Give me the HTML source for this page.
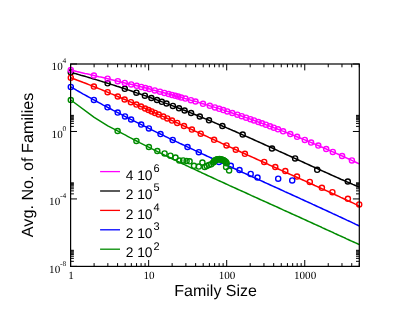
<!DOCTYPE html><html><head><meta charset="utf-8"><title>plot</title><style>
html,body{margin:0;padding:0;background:#fff}body{width:415px;height:321px;position:relative;overflow:hidden}svg{display:block}text{fill:#000;text-rendering:geometricPrecision}
</style></head><body>
<svg width="415" height="321" viewBox="0 0 415 321" style="position:absolute;left:0;top:0">
<rect width="415" height="321" fill="#fff"/>
<defs><clipPath id="c"><rect x="66.6" y="60.0" width="296.7" height="210.4"/></clipPath></defs>
<g clip-path="url(#c)">
<path d="M70.8 72.3 L72.8 72.9 L74.8 73.4 L76.8 74.0 L78.8 74.6 L80.8 75.2 L82.8 75.7 L84.8 76.3 L86.8 76.9 L88.8 77.5 L90.8 78.1 L92.8 78.7 L94.8 79.3 L96.8 79.9 L98.8 80.5 L100.8 81.1 L102.8 81.8 L104.8 82.4 L106.8 83.0 L108.8 83.6 L110.8 84.3 L112.8 84.9 L114.8 85.5 L116.8 86.2 L118.8 86.8 L120.8 87.5 L122.8 88.1 L124.8 88.8 L126.8 89.5 L128.8 90.1 L130.8 90.8 L132.8 91.5 L134.8 92.2 L136.8 92.9 L138.8 93.5 L140.8 94.2 L142.8 94.9 L144.8 95.6 L146.8 96.3 L148.8 97.1 L150.8 97.8 L152.8 98.5 L154.8 99.2 L156.8 99.9 L158.8 100.7 L160.8 101.4 L162.8 102.1 L164.8 102.9 L166.8 103.6 L168.8 104.4 L170.8 105.1 L172.8 105.9 L174.8 106.7 L176.8 107.4 L178.8 108.2 L180.8 109.0 L182.8 109.8 L184.8 110.5 L186.8 111.3 L188.8 112.1 L190.8 112.9 L192.8 113.7 L194.8 114.5 L196.8 115.3 L198.8 116.1 L200.8 117.0 L202.8 117.8 L204.8 118.6 L206.8 119.4 L208.8 120.3 L210.8 121.1 L212.8 121.9 L214.8 122.8 L216.8 123.6 L218.8 124.5 L220.8 125.3 L222.8 126.2 L224.8 127.0 L226.8 127.9 L228.8 128.7 L230.8 129.6 L232.8 130.5 L234.8 131.3 L236.8 132.2 L238.8 133.1 L240.8 134.0 L242.8 134.9 L244.8 135.7 L246.8 136.6 L248.8 137.5 L250.8 138.4 L252.8 139.3 L254.8 140.2 L256.8 141.1 L258.8 142.0 L260.8 142.9 L262.8 143.8 L264.8 144.7 L266.8 145.6 L268.8 146.5 L270.8 147.4 L272.8 148.3 L274.8 149.2 L276.8 150.1 L278.8 151.1 L280.8 152.0 L282.8 152.9 L284.8 153.8 L286.8 154.7 L288.8 155.6 L290.8 156.5 L292.8 157.5 L294.8 158.4 L296.8 159.3 L298.8 160.2 L300.8 161.1 L302.8 162.0 L304.8 163.0 L306.8 163.9 L308.8 164.8 L310.8 165.7 L312.8 166.6 L314.8 167.5 L316.8 168.4 L318.8 169.3 L320.8 170.2 L322.8 171.1 L324.8 172.0 L326.8 172.9 L328.8 173.8 L330.8 174.7 L332.8 175.6 L334.8 176.5 L336.8 177.4 L338.8 178.3 L340.8 179.2 L342.8 180.0 L344.8 180.9 L346.8 181.8 L348.8 182.6 L350.8 183.5 L352.8 184.4 L354.8 185.2 L356.8 186.1 L358.8 186.9 L359.3 187.1" fill="none" stroke="#000000" stroke-width="1.5" stroke-linejoin="round"/>
<g fill="none" stroke="#000000" stroke-width="1.4"><circle cx="70.8" cy="72.3" r="2.55"/><circle cx="107.6" cy="83.3" r="2.55"/><circle cx="124.8" cy="88.8" r="2.55"/><circle cx="136.4" cy="92.7" r="2.55"/><circle cx="144.9" cy="95.7" r="2.55"/><circle cx="151.4" cy="98.0" r="2.55"/><circle cx="157.0" cy="100.0" r="2.55"/><circle cx="161.8" cy="101.8" r="2.55"/><circle cx="166.5" cy="103.5" r="2.55"/><circle cx="172.9" cy="105.9" r="2.55"/><circle cx="179.0" cy="108.3" r="2.55"/><circle cx="184.6" cy="110.5" r="2.55"/><circle cx="191.1" cy="113.0" r="2.55"/><circle cx="199.8" cy="116.5" r="2.55"/><circle cx="209.0" cy="120.3" r="2.55"/><circle cx="222.4" cy="126.0" r="2.55"/><circle cx="242.7" cy="134.5" r="2.55"/><circle cx="272.0" cy="148.5" r="2.55"/><circle cx="295.1" cy="158.4" r="2.55"/><circle cx="317.2" cy="169.8" r="2.55"/><circle cx="347.8" cy="181.5" r="2.55"/></g>

<path d="M70.8 70.0 L72.8 70.5 L74.8 71.0 L76.8 71.5 L78.8 71.9 L80.8 72.4 L82.8 72.9 L84.8 73.4 L86.8 73.8 L88.8 74.3 L90.8 74.8 L92.8 75.2 L94.8 75.7 L96.8 76.2 L98.8 76.7 L100.8 77.1 L102.8 77.6 L104.8 78.1 L106.8 78.6 L108.8 79.0 L110.8 79.5 L112.8 80.0 L114.8 80.5 L116.8 80.9 L118.8 81.4 L120.8 81.9 L122.8 82.4 L124.8 82.9 L126.8 83.4 L128.8 83.8 L130.8 84.3 L132.8 84.8 L134.8 85.3 L136.8 85.8 L138.8 86.3 L140.8 86.8 L142.8 87.3 L144.8 87.8 L146.8 88.3 L148.8 88.8 L150.8 89.3 L152.8 89.9 L154.8 90.4 L156.8 90.9 L158.8 91.4 L160.8 91.9 L162.8 92.5 L164.8 93.0 L166.8 93.5 L168.8 94.1 L170.8 94.6 L172.8 95.1 L174.8 95.7 L176.8 96.2 L178.8 96.8 L180.8 97.3 L182.8 97.9 L184.8 98.5 L186.8 99.0 L188.8 99.6 L190.8 100.2 L192.8 100.8 L194.8 101.3 L196.8 101.9 L198.8 102.5 L200.8 103.1 L202.8 103.7 L204.8 104.3 L206.8 104.9 L208.8 105.5 L210.8 106.1 L212.8 106.8 L214.8 107.4 L216.8 108.0 L218.8 108.6 L220.8 109.3 L222.8 109.9 L224.8 110.5 L226.8 111.2 L228.8 111.8 L230.8 112.5 L232.8 113.2 L234.8 113.8 L236.8 114.5 L238.8 115.2 L240.8 115.8 L242.8 116.5 L244.8 117.2 L246.8 117.9 L248.8 118.6 L250.8 119.3 L252.8 120.0 L254.8 120.7 L256.8 121.4 L258.8 122.2 L260.8 122.9 L262.8 123.6 L264.8 124.3 L266.8 125.1 L268.8 125.8 L270.8 126.6 L272.8 127.3 L274.8 128.1 L276.8 128.8 L278.8 129.6 L280.8 130.4 L282.8 131.1 L284.8 131.9 L286.8 132.7 L288.8 133.5 L290.8 134.3 L292.8 135.1 L294.8 135.9 L296.8 136.7 L298.8 137.5 L300.8 138.3 L302.8 139.1 L304.8 139.9 L306.8 140.8 L308.8 141.6 L310.8 142.4 L312.8 143.3 L314.8 144.1 L316.8 145.0 L318.8 145.8 L320.8 146.7 L322.8 147.5 L324.8 148.4 L326.8 149.3 L328.8 150.1 L330.8 151.0 L332.8 151.9 L334.8 152.8 L336.8 153.6 L338.8 154.5 L340.8 155.4 L342.8 156.3 L344.8 157.2 L346.8 158.1 L348.8 159.0 L350.8 159.9 L352.8 160.9 L354.8 161.8 L356.8 162.7 L358.8 163.6 L359.3 163.9" fill="none" stroke="#ff00ff" stroke-width="1.5" stroke-linejoin="round"/>
<g fill="none" stroke="#ff00ff" stroke-width="1.4"><circle cx="70.8" cy="70.0" r="2.55"/><circle cx="93.9" cy="75.5" r="2.55"/><circle cx="107.6" cy="78.7" r="2.55"/><circle cx="117.8" cy="81.2" r="2.55"/><circle cx="124.8" cy="82.9" r="2.55"/><circle cx="131.2" cy="84.4" r="2.55"/><circle cx="136.7" cy="85.8" r="2.55"/><circle cx="141.3" cy="86.9" r="2.55"/><circle cx="145.4" cy="88.0" r="2.55"/><circle cx="149.3" cy="89.0" r="2.55"/><circle cx="154.8" cy="90.4" r="2.55"/><circle cx="160.0" cy="91.7" r="2.55"/><circle cx="164.4" cy="92.9" r="2.55"/><circle cx="168.6" cy="94.0" r="2.55"/><circle cx="172.0" cy="94.9" r="2.55"/><circle cx="175.3" cy="95.8" r="2.55"/><circle cx="178.2" cy="96.6" r="2.55"/><circle cx="181.2" cy="97.5" r="2.55"/><circle cx="185.4" cy="98.6" r="2.55"/><circle cx="190.9" cy="100.2" r="2.55"/><circle cx="195.5" cy="101.5" r="2.55"/><circle cx="203.0" cy="103.8" r="2.55"/><circle cx="209.8" cy="105.8" r="2.55"/><circle cx="214.9" cy="107.4" r="2.55"/><circle cx="219.2" cy="108.8" r="2.55"/><circle cx="223.3" cy="110.1" r="2.55"/><circle cx="227.3" cy="111.4" r="2.55"/><circle cx="232.3" cy="113.0" r="2.55"/><circle cx="237.4" cy="114.7" r="2.55"/><circle cx="241.7" cy="116.2" r="2.55"/><circle cx="246.1" cy="117.7" r="2.55"/><circle cx="250.4" cy="119.2" r="2.55"/><circle cx="254.0" cy="120.4" r="2.55"/><circle cx="258.4" cy="122.0" r="2.55"/><circle cx="262.0" cy="123.3" r="2.55"/><circle cx="265.9" cy="124.7" r="2.55"/><circle cx="270.0" cy="126.3" r="2.55"/><circle cx="273.8" cy="127.7" r="2.55"/><circle cx="278.0" cy="129.3" r="2.55"/><circle cx="283.1" cy="131.3" r="2.55"/><circle cx="290.3" cy="134.1" r="2.55"/><circle cx="297.1" cy="136.8" r="2.55"/><circle cx="304.8" cy="139.9" r="2.55"/><circle cx="311.1" cy="142.6" r="2.55"/><circle cx="318.3" cy="145.6" r="2.55"/><circle cx="326.2" cy="149.0" r="2.55"/><circle cx="332.8" cy="151.9" r="2.55"/><circle cx="342.1" cy="156.0" r="2.55"/><circle cx="351.9" cy="160.4" r="2.55"/></g>

<path d="M70.8 77.7 L72.8 78.5 L74.8 79.2 L76.8 80.0 L78.8 80.7 L80.8 81.5 L82.8 82.3 L84.8 83.0 L86.8 83.8 L88.8 84.6 L90.8 85.4 L92.8 86.2 L94.8 87.0 L96.8 87.8 L98.8 88.6 L100.8 89.4 L102.8 90.2 L104.8 91.1 L106.8 91.9 L108.8 92.7 L110.8 93.6 L112.8 94.4 L114.8 95.3 L116.8 96.1 L118.8 97.0 L120.8 97.8 L122.8 98.7 L124.8 99.5 L126.8 100.4 L128.8 101.3 L130.8 102.1 L132.8 103.0 L134.8 103.9 L136.8 104.8 L138.8 105.7 L140.8 106.5 L142.8 107.4 L144.8 108.3 L146.8 109.2 L148.8 110.1 L150.8 111.0 L152.8 111.9 L154.8 112.8 L156.8 113.7 L158.8 114.6 L160.8 115.5 L162.8 116.4 L164.8 117.3 L166.8 118.2 L168.8 119.1 L170.8 120.0 L172.8 120.9 L174.8 121.8 L176.8 122.7 L178.8 123.7 L180.8 124.6 L182.8 125.5 L184.8 126.4 L186.8 127.3 L188.8 128.2 L190.8 129.1 L192.8 130.0 L194.8 131.0 L196.8 131.9 L198.8 132.8 L200.8 133.7 L202.8 134.6 L204.8 135.5 L206.8 136.4 L208.8 137.4 L210.8 138.3 L212.8 139.2 L214.8 140.1 L216.8 141.0 L218.8 141.9 L220.8 142.8 L222.8 143.8 L224.8 144.7 L226.8 145.6 L228.8 146.5 L230.8 147.4 L232.8 148.3 L234.8 149.2 L236.8 150.1 L238.8 151.0 L240.8 152.0 L242.8 152.9 L244.8 153.8 L246.8 154.7 L248.8 155.6 L250.8 156.5 L252.8 157.4 L254.8 158.3 L256.8 159.2 L258.8 160.1 L260.8 161.0 L262.8 161.9 L264.8 162.8 L266.8 163.7 L268.8 164.7 L270.8 165.6 L272.8 166.5 L274.8 167.4 L276.8 168.3 L278.8 169.2 L280.8 170.1 L282.8 171.0 L284.8 171.9 L286.8 172.8 L288.8 173.7 L290.8 174.6 L292.8 175.5 L294.8 176.4 L296.8 177.3 L298.8 178.2 L300.8 179.1 L302.8 180.0 L304.8 180.9 L306.8 181.8 L308.8 182.7 L310.8 183.6 L312.8 184.5 L314.8 185.5 L316.8 186.4 L318.8 187.3 L320.8 188.2 L322.8 189.1 L324.8 190.0 L326.8 190.9 L328.8 191.8 L330.8 192.8 L332.8 193.7 L334.8 194.6 L336.8 195.5 L338.8 196.4 L340.8 197.4 L342.8 198.3 L344.8 199.2 L346.8 200.1 L348.8 201.1 L350.8 202.0 L352.8 202.9 L354.8 203.9 L356.8 204.8 L358.8 205.8 L359.3 206.0" fill="none" stroke="#ff0000" stroke-width="1.5" stroke-linejoin="round"/>
<g fill="none" stroke="#ff0000" stroke-width="1.4"><circle cx="70.8" cy="77.7" r="2.55"/><circle cx="93.9" cy="86.6" r="2.55"/><circle cx="107.6" cy="92.2" r="2.55"/><circle cx="117.8" cy="96.5" r="2.55"/><circle cx="124.6" cy="99.5" r="2.55"/><circle cx="130.9" cy="102.2" r="2.55"/><circle cx="136.4" cy="104.6" r="2.55"/><circle cx="141.0" cy="106.6" r="2.55"/><circle cx="145.1" cy="108.5" r="2.55"/><circle cx="148.5" cy="110.0" r="2.55"/><circle cx="151.7" cy="111.4" r="2.55"/><circle cx="155.0" cy="112.9" r="2.55"/><circle cx="158.7" cy="114.5" r="2.55"/><circle cx="163.3" cy="116.6" r="2.55"/><circle cx="167.3" cy="118.4" r="2.55"/><circle cx="172.0" cy="120.6" r="2.55"/><circle cx="177.2" cy="122.9" r="2.55"/><circle cx="184.0" cy="126.0" r="2.55"/><circle cx="191.9" cy="129.6" r="2.55"/><circle cx="200.7" cy="133.7" r="2.55"/><circle cx="214.1" cy="139.8" r="2.55"/><circle cx="226.5" cy="145.4" r="2.55"/><circle cx="235.8" cy="149.7" r="2.55"/><circle cx="244.9" cy="153.8" r="2.55"/><circle cx="264.2" cy="161.9" r="2.55"/><circle cx="275.3" cy="167.0" r="2.55"/><circle cx="285.3" cy="171.1" r="2.55"/><circle cx="297.0" cy="176.6" r="2.55"/><circle cx="309.8" cy="181.9" r="2.55"/><circle cx="321.9" cy="187.8" r="2.55"/><circle cx="332.4" cy="192.2" r="2.55"/><circle cx="347.9" cy="198.8" r="2.55"/><circle cx="359.2" cy="204.4" r="2.55"/></g>

<path d="M70.8 86.9 L72.8 88.1 L74.8 89.2 L76.8 90.4 L78.8 91.5 L80.8 92.6 L82.8 93.8 L84.8 94.9 L86.8 96.0 L88.8 97.1 L90.8 98.2 L92.8 99.3 L94.8 100.4 L96.8 101.5 L98.8 102.6 L100.8 103.7 L102.8 104.8 L104.8 105.8 L106.8 106.9 L108.8 108.0 L110.8 109.0 L112.8 110.1 L114.8 111.1 L116.8 112.2 L118.8 113.2 L120.8 114.2 L122.8 115.3 L124.8 116.3 L126.8 117.3 L128.8 118.3 L130.8 119.4 L132.8 120.4 L134.8 121.4 L136.8 122.4 L138.8 123.4 L140.8 124.4 L142.8 125.4 L144.8 126.4 L146.8 127.4 L148.8 128.4 L150.8 129.3 L152.8 130.3 L154.8 131.3 L156.8 132.3 L158.8 133.3 L160.8 134.2 L162.8 135.2 L164.8 136.2 L166.8 137.1 L168.8 138.1 L170.8 139.0 L172.8 140.0 L174.8 140.9 L176.8 141.9 L178.8 142.8 L180.8 143.8 L182.8 144.7 L184.8 145.7 L186.8 146.6 L188.8 147.6 L190.8 148.5 L192.8 149.4 L194.8 150.4 L196.8 151.3 L198.8 152.2 L200.8 153.2 L202.8 154.1 L204.8 155.0 L206.8 156.0 L208.8 156.9 L210.8 157.8 L212.8 158.7 L214.8 159.6 L216.8 160.6 L218.8 161.5 L220.8 162.4 L222.8 163.3 L224.8 164.2 L226.8 165.2 L228.8 166.1 L230.8 167.0 L232.8 167.9 L234.8 168.8 L236.8 169.7 L238.8 170.6 L240.8 171.5 L242.8 172.5 L244.8 173.4 L246.8 174.3 L248.8 175.2 L250.8 176.1 L252.8 177.0 L254.8 177.9 L256.8 178.8 L258.8 179.7 L260.8 180.6 L262.8 181.5 L264.8 182.5 L266.8 183.4 L268.8 184.3 L270.8 185.2 L272.8 186.1 L274.8 187.0 L276.8 187.9 L278.8 188.8 L280.8 189.7 L282.8 190.6 L284.8 191.6 L286.8 192.5 L288.8 193.4 L290.8 194.3 L292.8 195.2 L294.8 196.1 L296.8 197.0 L298.8 197.9 L300.8 198.9 L302.8 199.8 L304.8 200.7 L306.8 201.6 L308.8 202.5 L310.8 203.4 L312.8 204.4 L314.8 205.3 L316.8 206.2 L318.8 207.1 L320.8 208.0 L322.8 209.0 L324.8 209.9 L326.8 210.8 L328.8 211.7 L330.8 212.6 L332.8 213.6 L334.8 214.5 L336.8 215.4 L338.8 216.4 L340.8 217.3 L342.8 218.2 L344.8 219.1 L346.8 220.1 L348.8 221.0 L350.8 221.9 L352.8 222.9 L354.8 223.8 L356.8 224.8 L358.8 225.7 L359.3 225.9" fill="none" stroke="#0000ff" stroke-width="1.5" stroke-linejoin="round"/>
<g fill="none" stroke="#0000ff" stroke-width="1.4"><circle cx="70.8" cy="86.9" r="2.55"/><circle cx="93.9" cy="99.9" r="2.55"/><circle cx="107.5" cy="107.3" r="2.55"/><circle cx="117.7" cy="112.6" r="2.55"/><circle cx="125.0" cy="116.4" r="2.55"/><circle cx="131.1" cy="119.5" r="2.55"/><circle cx="141.2" cy="124.6" r="2.55"/><circle cx="148.9" cy="128.4" r="2.55"/><circle cx="160.5" cy="134.1" r="2.55"/><circle cx="172.7" cy="139.9" r="2.55"/><circle cx="187.5" cy="147.0" r="2.55"/><circle cx="198.8" cy="152.2" r="2.55"/><circle cx="219.0" cy="162.0" r="2.55"/><circle cx="230.8" cy="165.8" r="2.55"/><circle cx="239.5" cy="170.0" r="2.55"/><circle cx="250.7" cy="173.9" r="2.55"/><circle cx="257.5" cy="177.5" r="2.55"/><circle cx="278.2" cy="178.7" r="2.55"/><circle cx="292.2" cy="180.4" r="2.55"/></g>

<path d="M70.8 100.0 L94.2 117.4 L107.8 125.9 L117.6 130.9 L119.6 132.0 L121.6 133.1 L123.6 134.2 L125.6 135.2 L127.6 136.3 L129.6 137.4 L131.6 138.4 L133.6 139.5 L135.6 140.5 L137.6 141.5 L139.6 142.6 L141.6 143.6 L143.6 144.6 L145.6 145.6 L147.6 146.6 L149.6 147.6 L151.6 148.7 L153.6 149.7 L155.6 150.6 L157.6 151.6 L159.6 152.6 L161.6 153.6 L163.6 154.6 L165.6 155.6 L167.6 156.5 L169.6 157.5 L171.6 158.5 L173.6 159.5 L175.6 160.4 L177.6 161.4 L179.6 162.3 L181.6 163.3 L183.6 164.2 L185.6 165.2 L187.6 166.1 L189.6 167.1 L191.6 168.0 L193.6 168.9 L195.6 169.9 L197.6 170.8 L199.6 171.7 L201.6 172.7 L203.6 173.6 L205.6 174.5 L207.6 175.5 L209.6 176.4 L211.6 177.3 L213.6 178.2 L215.6 179.1 L217.6 180.1 L219.6 181.0 L221.6 181.9 L223.6 182.8 L225.6 183.7 L227.6 184.6 L229.6 185.6 L231.6 186.5 L233.6 187.4 L235.6 188.3 L237.6 189.2 L239.6 190.1 L241.6 191.0 L243.6 191.9 L245.6 192.8 L247.6 193.7 L249.6 194.6 L251.6 195.6 L253.6 196.5 L255.6 197.4 L257.6 198.3 L259.6 199.2 L261.6 200.1 L263.6 201.0 L265.6 201.9 L267.6 202.8 L269.6 203.7 L271.6 204.6 L273.6 205.5 L275.6 206.4 L277.6 207.3 L279.6 208.2 L281.6 209.1 L283.6 210.1 L285.6 211.0 L287.6 211.9 L289.6 212.8 L291.6 213.7 L293.6 214.6 L295.6 215.5 L297.6 216.4 L299.6 217.3 L301.6 218.2 L303.6 219.1 L305.6 220.0 L307.6 221.0 L309.6 221.9 L311.6 222.8 L313.6 223.7 L315.6 224.6 L317.6 225.5 L319.6 226.4 L321.6 227.3 L323.6 228.3 L325.6 229.2 L327.6 230.1 L329.6 231.0 L331.6 231.9 L333.6 232.8 L335.6 233.8 L337.6 234.7 L339.6 235.6 L341.6 236.5 L343.6 237.4 L345.6 238.3 L347.6 239.3 L349.6 240.2 L351.6 241.1 L353.6 242.0 L355.6 242.9 L357.6 243.8 L359.3 244.6" fill="none" stroke="#008b00" stroke-width="1.5" stroke-linejoin="round"/>
<g fill="none" stroke="#008b00" stroke-width="1.4"><circle cx="70.8" cy="100.0" r="2.55"/><circle cx="117.6" cy="131.0" r="2.55"/><circle cx="136.4" cy="140.9" r="2.55"/><circle cx="148.9" cy="147.0" r="2.55"/><circle cx="157.3" cy="151.0" r="2.55"/><circle cx="164.6" cy="153.4" r="2.55"/><circle cx="170.4" cy="155.7" r="2.55"/><circle cx="175.5" cy="157.5" r="2.55"/><circle cx="179.3" cy="160.5" r="2.55"/><circle cx="183.2" cy="160.4" r="2.55"/><circle cx="186.6" cy="161.0" r="2.55"/><circle cx="189.6" cy="161.3" r="2.55"/><circle cx="194.0" cy="165.8" r="2.55"/><circle cx="198.8" cy="166.6" r="2.55"/><circle cx="202.4" cy="162.6" r="2.55"/><circle cx="204.7" cy="167.0" r="2.55"/><circle cx="206.7" cy="165.9" r="2.55"/><circle cx="208.9" cy="164.9" r="2.55"/><circle cx="211.2" cy="164.2" r="2.55"/><circle cx="213.2" cy="162.6" r="2.55"/><circle cx="213.8" cy="161.9" r="2.55"/><circle cx="214.4" cy="161.1" r="2.55"/><circle cx="215.0" cy="160.4" r="2.55"/><circle cx="215.8" cy="160.0" r="2.55"/><circle cx="216.7" cy="159.5" r="2.55"/><circle cx="217.6" cy="159.2" r="2.55"/><circle cx="218.5" cy="159.2" r="2.55"/><circle cx="219.5" cy="159.1" r="2.55"/><circle cx="220.4" cy="159.2" r="2.55"/><circle cx="221.3" cy="159.5" r="2.55"/><circle cx="222.2" cy="159.7" r="2.55"/><circle cx="223.1" cy="160.1" r="2.55"/><circle cx="223.9" cy="160.6" r="2.55"/><circle cx="224.7" cy="161.1" r="2.55"/><circle cx="225.5" cy="161.7" r="2.55"/><circle cx="226.1" cy="162.3" r="2.55"/><circle cx="226.6" cy="163.2" r="2.55"/><circle cx="226.1" cy="166.9" r="2.55"/><circle cx="229.1" cy="170.4" r="2.55"/></g>

</g>
<path d="M70.60 266.40 v-6.40 M70.60 64.00 v6.40 M94.10 266.40 v-3.30 M94.10 64.00 v3.30 M107.84 266.40 v-3.30 M107.84 64.00 v3.30 M117.59 266.40 v-3.30 M117.59 64.00 v3.30 M125.15 266.40 v-3.30 M125.15 64.00 v3.30 M131.33 266.40 v-3.30 M131.33 64.00 v3.30 M136.56 266.40 v-3.30 M136.56 64.00 v3.30 M141.09 266.40 v-3.30 M141.09 64.00 v3.30 M145.08 266.40 v-3.30 M145.08 64.00 v3.30 M148.65 266.40 v-6.40 M148.65 64.00 v6.40 M172.14 266.40 v-3.30 M172.14 64.00 v3.30 M185.89 266.40 v-3.30 M185.89 64.00 v3.30 M195.64 266.40 v-3.30 M195.64 64.00 v3.30 M203.20 266.40 v-3.30 M203.20 64.00 v3.30 M209.38 266.40 v-3.30 M209.38 64.00 v3.30 M214.61 266.40 v-3.30 M214.61 64.00 v3.30 M219.13 266.40 v-3.30 M219.13 64.00 v3.30 M223.13 266.40 v-3.30 M223.13 64.00 v3.30 M226.70 266.40 v-6.40 M226.70 64.00 v6.40 M250.19 266.40 v-3.30 M250.19 64.00 v3.30 M263.94 266.40 v-3.30 M263.94 64.00 v3.30 M273.69 266.40 v-3.30 M273.69 64.00 v3.30 M281.25 266.40 v-3.30 M281.25 64.00 v3.30 M287.43 266.40 v-3.30 M287.43 64.00 v3.30 M292.66 266.40 v-3.30 M292.66 64.00 v3.30 M297.18 266.40 v-3.30 M297.18 64.00 v3.30 M301.17 266.40 v-3.30 M301.17 64.00 v3.30 M304.75 266.40 v-6.40 M304.75 64.00 v6.40 M328.24 266.40 v-3.30 M328.24 64.00 v3.30 M341.98 266.40 v-3.30 M341.98 64.00 v3.30 M351.74 266.40 v-3.30 M351.74 64.00 v3.30 M359.30 266.40 v-3.30 M359.30 64.00 v3.30 M70.60 64.00 h6.40 M359.30 64.00 h-6.40 M70.60 131.47 h6.40 M359.30 131.47 h-6.40 M70.60 126.39 h3.30 M359.30 126.39 h-3.30 M70.60 123.42 h3.30 M359.30 123.42 h-3.30 M70.60 121.31 h3.30 M359.30 121.31 h-3.30 M70.60 119.68 h3.30 M359.30 119.68 h-3.30 M70.60 118.34 h3.30 M359.30 118.34 h-3.30 M70.60 117.21 h3.30 M359.30 117.21 h-3.30 M70.60 116.23 h3.30 M359.30 116.23 h-3.30 M70.60 115.37 h3.30 M359.30 115.37 h-3.30 M70.60 198.93 h6.40 M359.30 198.93 h-6.40 M70.60 193.86 h3.30 M359.30 193.86 h-3.30 M70.60 190.89 h3.30 M359.30 190.89 h-3.30 M70.60 188.78 h3.30 M359.30 188.78 h-3.30 M70.60 187.14 h3.30 M359.30 187.14 h-3.30 M70.60 185.81 h3.30 M359.30 185.81 h-3.30 M70.60 184.68 h3.30 M359.30 184.68 h-3.30 M70.60 183.70 h3.30 M359.30 183.70 h-3.30 M70.60 182.84 h3.30 M359.30 182.84 h-3.30 M70.60 266.40 h6.40 M359.30 266.40 h-6.40 M70.60 261.32 h3.30 M359.30 261.32 h-3.30 M70.60 258.35 h3.30 M359.30 258.35 h-3.30 M70.60 256.25 h3.30 M359.30 256.25 h-3.30 M70.60 254.61 h3.30 M359.30 254.61 h-3.30 M70.60 253.28 h3.30 M359.30 253.28 h-3.30 M70.60 252.15 h3.30 M359.30 252.15 h-3.30 M70.60 251.17 h3.30 M359.30 251.17 h-3.30 M70.60 250.31 h3.30 M359.30 250.31 h-3.30" stroke="#000" stroke-width="1" fill="none"/>
<rect x="70.60" y="64.00" width="288.70" height="202.40" fill="none" stroke="#000" stroke-width="1.2"/>
<path d="M100.1 171.6 H120" stroke="#ff00ff" stroke-width="1.3"/>
<path d="M100.1 191.0 H120" stroke="#000000" stroke-width="1.3"/>
<path d="M100.1 210.4 H120" stroke="#ff0000" stroke-width="1.3"/>
<path d="M100.1 229.8 H120" stroke="#0000ff" stroke-width="1.3"/>
<path d="M100.1 249.2 H120" stroke="#008b00" stroke-width="1.3"/>
<filter id="gs" x="0" y="0" width="415" height="321" filterUnits="userSpaceOnUse" color-interpolation-filters="sRGB"><feColorMatrix type="saturate" values="0"/></filter><g filter="url(#gs)">
<text x="125.7" y="179.8" font-family="Liberation Sans, sans-serif" font-size="13.8">4 10</text>
<text x="153.6" y="171.9" font-family="Liberation Sans, sans-serif" font-size="11">6</text>
<text x="125.7" y="199.2" font-family="Liberation Sans, sans-serif" font-size="13.8">2 10</text>
<text x="153.6" y="191.3" font-family="Liberation Sans, sans-serif" font-size="11">5</text>
<text x="125.7" y="218.7" font-family="Liberation Sans, sans-serif" font-size="13.8">2 10</text>
<text x="153.6" y="210.8" font-family="Liberation Sans, sans-serif" font-size="11">4</text>
<text x="125.7" y="238.1" font-family="Liberation Sans, sans-serif" font-size="13.8">2 10</text>
<text x="153.6" y="230.2" font-family="Liberation Sans, sans-serif" font-size="11">3</text>
<text x="125.7" y="257.4" font-family="Liberation Sans, sans-serif" font-size="13.8">2 10</text>
<text x="153.6" y="249.5" font-family="Liberation Sans, sans-serif" font-size="11">2</text>
<text x="66.2" y="63.3" font-family="Liberation Serif, serif" font-size="7.4" text-anchor="end">4</text>
<text x="62.7" y="70.4" font-family="Liberation Serif, serif" font-size="11.1" text-anchor="end">10</text>
<text x="66.2" y="130.8" font-family="Liberation Serif, serif" font-size="7.4" text-anchor="end">0</text>
<text x="62.7" y="137.9" font-family="Liberation Serif, serif" font-size="11.1" text-anchor="end">10</text>
<text x="66.2" y="198.2" font-family="Liberation Serif, serif" font-size="7.4" text-anchor="end">-4</text>
<text x="60.2" y="205.3" font-family="Liberation Serif, serif" font-size="11.1" text-anchor="end">10</text>
<text x="66.2" y="265.7" font-family="Liberation Serif, serif" font-size="7.4" text-anchor="end">-8</text>
<text x="60.2" y="272.8" font-family="Liberation Serif, serif" font-size="11.1" text-anchor="end">10</text>
<text x="71.0" y="278.5" font-family="Liberation Serif, serif" font-size="11.1" text-anchor="middle">1</text>
<text x="149.0" y="278.5" font-family="Liberation Serif, serif" font-size="11.1" text-anchor="middle">10</text>
<text x="227.1" y="278.5" font-family="Liberation Serif, serif" font-size="11.1" text-anchor="middle">100</text>
<text x="305.1" y="278.5" font-family="Liberation Serif, serif" font-size="11.1" text-anchor="middle">1000</text>
<text x="174.3" y="296.3" font-family="Liberation Sans, sans-serif" font-size="16">Family Size</text>
<text transform="translate(33.2 237.2) rotate(-90)" font-family="Liberation Sans, sans-serif" font-size="16.2">Avg. No. of Families</text>
</g>
</svg>
</body></html>
